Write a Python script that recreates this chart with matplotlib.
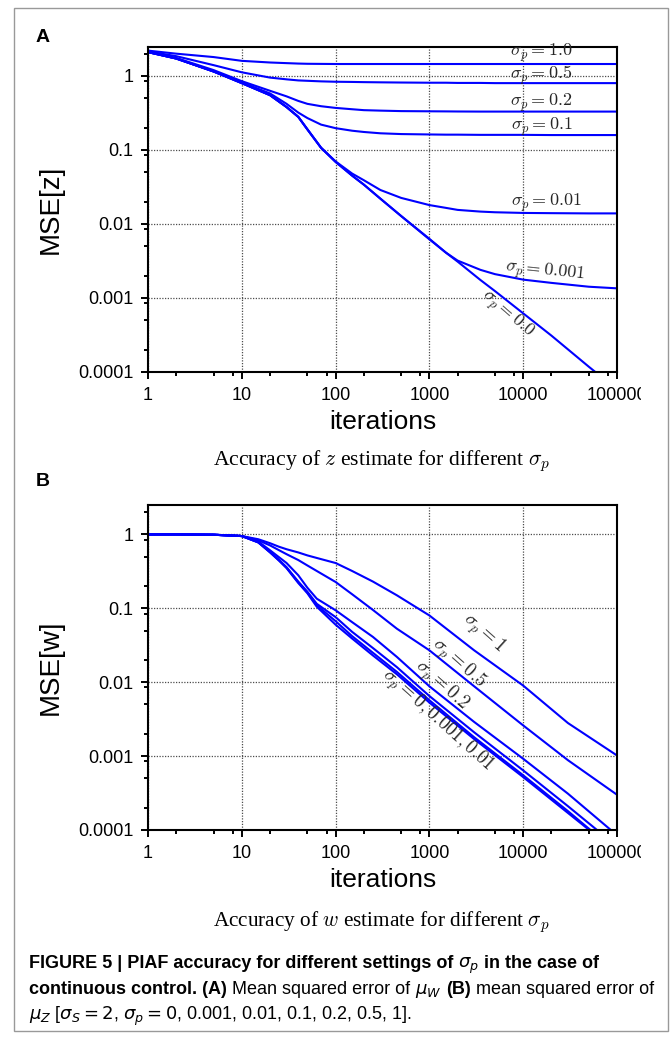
import matplotlib
matplotlib.use("Agg")
import matplotlib.pyplot as plt
from matplotlib import font_manager
from matplotlib.patches import Rectangle
from matplotlib.ticker import LogLocator, NullFormatter
from matplotlib.transforms import Bbox, TransformedBbox

W, H = 670, 1039

# ---------------- values ----------------
# (A) MSE of z estimate
iters_a = [1, 2, 5, 10, 20, 30, 40, 50, 70, 100, 150, 200, 300, 500,
           1000, 1500, 2000, 3500, 5000, 10000, 20000, 50000, 100000]
mse_z_10 = [2.2, 2.0, 1.8, 1.6, 1.52, 1.49, 1.47, 1.46, 1.455, 1.45, 1.45, 1.45,
            1.45, 1.45, 1.45, 1.45, 1.45, 1.45, 1.45, 1.45, 1.45, 1.45, 1.45]
mse_z_05 = [2.15, 1.85, 1.4, 1.12, 0.95, 0.9, 0.87, 0.86, 0.845, 0.835, 0.83, 0.825,
            0.82, 0.815, 0.81, 0.81, 0.805, 0.805, 0.8, 0.8, 0.8, 0.8, 0.8]
mse_z_02 = [2.12, 1.75, 1.2, 0.85, 0.63, 0.53, 0.46, 0.42, 0.39, 0.37, 0.355, 0.345,
            0.34, 0.335, 0.333, 0.332, 0.331, 0.33, 0.33, 0.33, 0.33, 0.33, 0.33]
mse_z_01 = [2.1, 1.72, 1.15, 0.82, 0.58, 0.42, 0.32, 0.27, 0.22, 0.197, 0.182, 0.175,
            0.168, 0.164, 0.162, 0.161, 0.161, 0.16, 0.16, 0.16, 0.159, 0.159, 0.159]
mse_z_001 = [2.1, 1.72, 1.15, 0.8, 0.55, 0.38, 0.28, 0.19, 0.107, 0.07, 0.048, 0.039,
             0.0288, 0.0225, 0.018, 0.0165, 0.0155, 0.0147, 0.0144, 0.0141, 0.014,
             0.0139, 0.0139]
mse_z_0001 = [2.1, 1.72, 1.15, 0.8, 0.55, 0.38, 0.28, 0.19, 0.107, 0.069, 0.045, 0.034,
              0.022, 0.0128, 0.0063, 0.0041, 0.0032, 0.0024, 0.0021, 0.00177, 0.0016,
              0.00142, 0.00135]
mse_z_0 = [2.1, 1.72, 1.15, 0.8, 0.55, 0.38, 0.28, 0.19, 0.107, 0.069, 0.045, 0.034,
           0.022, 0.0128, 0.0062, 0.0041, 0.0031, 0.00175, 0.00124, 0.00062, 0.00031,
           0.000118, 0.000058]

# (B) MSE of w estimate
iters_b = [1, 2, 5, 10, 15, 20, 25, 30, 40, 50, 63, 100, 150, 250, 450,
           1000, 3000, 10000, 30000, 100000]
mse_w_1 = [1.0, 1.0, 0.99, 0.95, 0.86, 0.76, 0.68, 0.63, 0.57, 0.52, 0.48, 0.41,
           0.32, 0.23, 0.15, 0.08, 0.027, 0.009, 0.0028, 0.00102]
mse_w_05 = [1.0, 1.0, 0.99, 0.95, 0.83, 0.71, 0.61, 0.54, 0.45, 0.38, 0.32, 0.227,
            0.155, 0.095, 0.053, 0.027, 0.0088, 0.0026, 0.00088, 0.0003]
mse_w_02 = [1.0, 1.0, 0.99, 0.95, 0.8, 0.61, 0.49, 0.41, 0.28, 0.19, 0.135, 0.094,
            0.065, 0.041, 0.022, 0.0088, 0.0029, 0.00092, 0.00031, 0.000085]
mse_w_001 = [1.0, 1.0, 0.99, 0.95, 0.78, 0.58, 0.45, 0.36, 0.23, 0.168, 0.115, 0.076,
             0.048, 0.029, 0.016, 0.0065, 0.0021, 0.00064, 0.00021, 0.00006]
mse_w_0001 = [1.0, 1.0, 0.99, 0.95, 0.78, 0.575, 0.445, 0.355, 0.225, 0.163, 0.11, 0.067,
              0.042, 0.025, 0.0138, 0.0057, 0.0018, 0.00055, 0.00018, 0.00005]
mse_w_0 = [1.0, 1.0, 0.99, 0.95, 0.78, 0.57, 0.44, 0.35, 0.22, 0.16, 0.105, 0.06,
           0.039, 0.023, 0.0128, 0.0053, 0.0017, 0.00052, 0.00017, 0.00005]

xtick_vals = [1, 10, 100, 1000, 10000, 100000]
xtick_labels = ["1", "10", "100", "1000", "10000", "100000"]
ytick_vals = [0.0001, 0.001, 0.01, 0.1, 1]
ytick_labels = ["0.0001", "0.001", "0.01", "0.1", "1"]

labels_z = [r"$\sigma_p = 1.0$", r"$\sigma_p = 0.5$", r"$\sigma_p = 0.2$",
            r"$\sigma_p = 0.1$", r"$\sigma_p = 0.01$", r"$\sigma_p = 0.001$",
            r"$\sigma_p = 0.0$"]
labels_w = [r"$\sigma_p = 1$", r"$\sigma_p = 0.5$", r"$\sigma_p = 0.2$",
            r"$\sigma_p = 0, 0.001, 0.01$"]

# ---------------- style ----------------
plt.rcParams["font.family"] = "Liberation Sans"
plt.rcParams["mathtext.fontset"] = "cm"
names = {f.name for f in font_manager.fontManager.ttflist}
cap_font = "Liberation Sans Narrow" if "Liberation Sans Narrow" in names else "Liberation Sans"
BLUE = "#0000ff"

fig = plt.figure(figsize=(W / 100, H / 100), dpi=100)
fig.patches.append(Rectangle((14 / W, 1 - 1031 / H), 654 / W, 1023 / H,
                             transform=fig.transFigure, fill=False,
                             ec="0.6", lw=1.0))


def px(x, y):
    return x / W, 1 - y / H


def setup(ax, ylab):
    ax.set_xscale("log")
    ax.set_yscale("log")
    ax.set_xlim(1, 100000)
    ax.set_ylim(1e-4, 2.5)
    ax.set_xticks(xtick_vals)
    ax.set_xticklabels(xtick_labels)
    ax.set_yticks(ytick_vals)
    ax.set_yticklabels(ytick_labels)
    ax.xaxis.set_minor_locator(LogLocator(base=10, subs=(2, 5, 8), numticks=30))
    ax.yaxis.set_minor_locator(LogLocator(base=10, subs=(2, 5, 8.5), numticks=30))
    ax.xaxis.set_minor_formatter(NullFormatter())
    ax.yaxis.set_minor_formatter(NullFormatter())
    ax.tick_params(which="both", direction="out", top=False, right=False,
                   width=1.4, labelsize=13, pad=5.5)
    ax.tick_params(which="major", length=5)
    ax.tick_params(which="minor", length=3.2)
    ax.grid(True, which="major", ls=(0, (1, 1.2)), color="0.3", lw=0.9)
    for sp in ax.spines.values():
        sp.set_linewidth(1.5)
    ax.set_xlabel("iterations", fontsize=19)
    ax.xaxis.set_label_coords(0.5, -57 / 325.5)
    ax.xaxis.label.set_va("baseline")
    ax.set_ylabel(ylab, fontsize=20)
    ax.yaxis.set_label_coords((51 - 148) / 469, 0.5)
    ax.yaxis.label.set_va("center")
    # the last tick label is cut off in the original
    clip = TransformedBbox(Bbox([[0, 0], [641 / W, 1]]), fig.transFigure)
    for lab in ax.get_xticklabels():
        lab.set_clip_box(clip)
        lab.set_clip_on(True)


# ---------------- panel A ----------------
ax1 = fig.add_axes([148 / W, 1 - 372 / H, 469 / W, 325.5 / H])
for ys in [mse_z_10, mse_z_05, mse_z_02, mse_z_01, mse_z_001, mse_z_0001, mse_z_0]:
    ax1.plot(iters_a, ys, color=BLUE, lw=1.5)
setup(ax1, "MSE[z]")
pos_z = [(15700, 2.02, 0), (15700, 1.01, 0), (15700, 0.436, 0), (15700, 0.203, 0),
         (17500, 0.0194, 0), (16800, 0.00221, -6), (6770, 0.000603, -41)]
for lab, (x, y, r) in zip(labels_z, pos_z):
    ax1.text(x, y, lab, fontsize=13, ha="center", va="center", rotation=r,
             rotation_mode="anchor", color="0.15")

# ---------------- panel B ----------------
ax2 = fig.add_axes([148 / W, 1 - 830 / H, 469 / W, 325 / H])
for ys in [mse_w_1, mse_w_05, mse_w_02, mse_w_001, mse_w_0001, mse_w_0]:
    ax2.plot(iters_b, ys, color=BLUE, lw=1.5)
setup(ax2, "MSE[w]")
pos_w = [(3760, 0.0455, -42), (2033, 0.0179, -42), (1320, 0.0091, -42),
         (1214, 0.00306, -42)]
for lab, (x, y, r) in zip(labels_w, pos_w):
    ax2.text(x, y, lab, fontsize=13.5, ha="center", va="center", rotation=r,
             rotation_mode="anchor", color="0.15")

# panel letters and sub captions
fig.text(*px(36, 37), "A", fontsize=14, fontweight="bold", va="center")
fig.text(*px(36, 481), "B", fontsize=14, fontweight="bold", va="center")

renderer = fig.canvas.get_renderer()


def fit(t, width):
    w = t.get_window_extent(renderer).width
    t.set_fontsize(t.get_fontsize() * width / w)


for yb, var in [(465, "z"), (926, "w")]:
    t = fig.text(*px(381, yb), "Accuracy of $%s$ estimate for different $\\sigma_p$" % var,
                 family="Liberation Serif", fontsize=12, ha="center", va="baseline")
    fit(t, 337)

# ---------------- figure caption ----------------
cap_lines = [
    [("FIGURE 5 | PIAF accuracy for different settings of", "bold"), (r"$\sigma_p$", "bold"),
     ("in the case of", "bold")],
    [("continuous control. (A)", "bold"), ("Mean squared error of", "normal"),
     (r"$\mu_W$", "normal"), ("(B)", "bold"), ("mean squared error of", "normal")],
    [(r"$\mu_Z$ [$\sigma_S = 2$, $\sigma_p = 0$, 0.001, 0.01, 0.1, 0.2, 0.5, 1].", "normal")],
]
cap_y = [968, 994, 1020]


def draw_line(parts, x0, yb, size):
    texts = []
    x = x0
    for s, wt in parts:
        t = fig.text(*px(x, yb), s, fontsize=size, fontweight=wt, family=cap_font,
                     va="baseline", ha="left", math_fontfamily="dejavusans")
        texts.append(t)
        a = fig.text(0, 0, "a a", fontsize=size, fontweight=wt, family=cap_font)
        b = fig.text(0, 0, "aa", fontsize=size, fontweight=wt, family=cap_font)
        sp = a.get_window_extent(renderer).width - b.get_window_extent(renderer).width
        a.remove()
        b.remove()
        x += t.get_window_extent(renderer).width + sp
    return texts, x - sp - x0


texts, w = draw_line(cap_lines[1], 29, cap_y[1], 12)
for t in texts:
    t.remove()
size = 12 * 626 / w
for parts, yb in zip(cap_lines, cap_y):
    draw_line(parts, 29, yb, size)

fig.savefig("out.png", dpi=100)
